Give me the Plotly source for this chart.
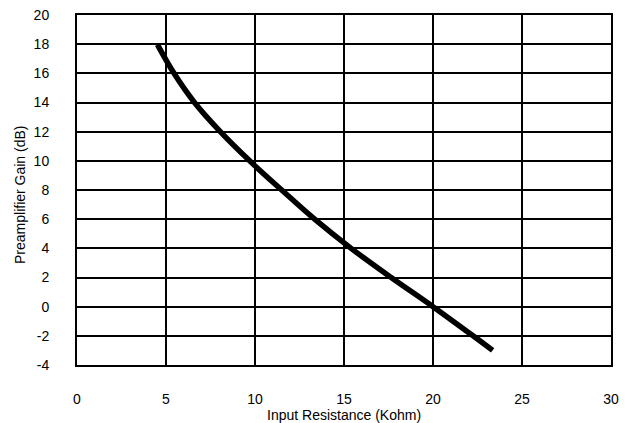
import plotly.graph_objects as go

resistance_kohm = [4.52, 5.45, 6.6, 8.05, 9.7, 11.5, 13.35, 15.4, 17.65, 20.0, 22.25, 23.35]
gain_db = [17.97, 16.0, 14.0, 12.0, 10.0, 8.0, 6.0, 4.0, 2.0, 0.0, -2.0, -3.0]

x_ticks = [0, 5, 10, 15, 20, 25, 30]
y_ticks = [-4, -2, 0, 2, 4, 6, 8, 10, 12, 14, 16, 18, 20]
y_tick_labels = ["-4", "-2", "0", "2", "4", "6", "8", "10", "12", "14", "16", "18", "20"]

x_title = "Input Resistance (Kohm)"
y_title = "Preamplifier Gain (dB)"

fig = go.Figure()
fig.add_trace(go.Scatter(
    x=resistance_kohm, y=gain_db, mode="lines",
    line=dict(color="black", width=5.5, shape="spline", smoothing=1.0),
    showlegend=False, hoverinfo="skip",
))

font = dict(family="Liberation Sans, Arial, sans-serif", size=14, color="black")

fig.update_layout(
    width=631, height=423,
    margin=dict(l=77, r=20, t=15, b=58),
    paper_bgcolor="white", plot_bgcolor="white",
    font=font,
    xaxis=dict(
        range=[0, 30], tickvals=x_ticks, showgrid=True, gridcolor="black", gridwidth=2,
        zeroline=False, showline=True, linecolor="black", linewidth=2, mirror=True,
        ticks="", ticklabelstandoff=20, automargin=False, fixedrange=True,
    ),
    yaxis=dict(
        range=[-4, 20], tickvals=y_ticks, ticktext=y_tick_labels,
        showgrid=True, gridcolor="black", gridwidth=2,
        zeroline=False, showline=True, linecolor="black", linewidth=2, mirror=True,
        ticks="", ticklabelstandoff=23, automargin=False, fixedrange=True,
    ),
    annotations=[
        dict(text=x_title, xref="paper", yref="paper", x=0.5, y=0,
             xanchor="center", yanchor="middle", yshift=-50, showarrow=False,
             font=dict(size=14)),
        dict(text=y_title, xref="paper", yref="paper", x=0, y=0.5,
             xanchor="center", yanchor="middle", xshift=-57, yshift=-5,
             textangle=-90, showarrow=False, font=dict(size=14)),
    ],
)

fig.write_html(
    "out.html",
    config={"displayModeBar": False},
    post_script="document.body.style.margin='0';document.body.style.padding='0';",
)
